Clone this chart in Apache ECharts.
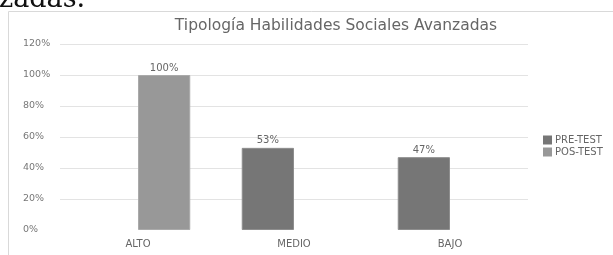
<!DOCTYPE html>
<html>
<head>
<meta charset="utf-8">
<script src="https://cdn.jsdelivr.net/npm/echarts@6/dist/echarts.min.js"></script>
<style>
  html, body { margin: 0; padding: 0; background: #fff; }
  #chart { width: 613px; height: 255px; }
</style>
</head>
<body>
<div id="chart"></div>
<script>
var categories = ['ALTO', 'MEDIO', 'BAJO'];
var preTest = [null, 53, 47];
var posTest = [100, null, null];
var yTicks = [0, 20, 40, 60, 80, 100, 120];

var chart = echarts.init(document.getElementById('chart'));
var txt = '#666666';
var fam = '"DejaVu Sans"';

var option = {
  animation: false,
  graphic: [
    // trozo del texto del documento, cortado arriba
    { type: 'text', left: -1, top: -14, style: { text: 'zadas.', font: '27px "DejaVu Serif"', fill: '#111' } },
    // borde del grafico
    { type: 'rect', shape: { x: 8.5, y: 11.5, width: 640, height: 300 }, style: { fill: 'none', stroke: '#d9d9d9', lineWidth: 1 } }
  ],
  title: {
    text: 'Tipología Habilidades Sociales Avanzadas',
    left: 331, top: 13, textAlign: 'center',
    textStyle: { fontFamily: fam, fontSize: 15.5, fontWeight: 'normal', color: '#666666' }
  },
  legend: {
    orient: 'vertical', left: 538, top: 130,
    icon: 'rect', itemWidth: 9, itemHeight: 9, itemGap: 2,
    data: ['PRE-TEST', 'POS-TEST'],
    itemStyle: { borderWidth: 0 },
    textStyle: { fontFamily: fam, fontSize: 10, color: txt, padding: [0, 0, 0, -2] }
  },
  grid: { left: 60, right: 85, top: 44, bottom: 25 },
  xAxis: {
    type: 'category', data: categories,
    axisLine: { show: false }, axisTick: { show: false },
    axisLabel: { fontFamily: fam, fontSize: 10, color: txt, margin: 9 }
  },
  yAxis: {
    type: 'value', min: yTicks[0], max: yTicks[yTicks.length - 1], interval: 20,
    axisLine: { show: false }, axisTick: { show: false },
    axisLabel: { formatter: '{value}%', fontFamily: fam, fontSize: 9.5, color: '#777777', align: 'left', margin: 37 },
    splitLine: { showMinLine: false, lineStyle: { color: '#e3e3e3', width: 1 } }
  },
  series: [
    {
      name: 'PRE-TEST', type: 'bar', data: preTest,
      barGap: '0%', barCategoryGap: '33%',
      itemStyle: { color: '#767676', borderColor: '#8e8e8e', borderWidth: 1 },
      label: { show: true, position: 'top', distance: 2, formatter: '{c}%', fontFamily: fam, fontSize: 10, color: txt }
    },
    {
      name: 'POS-TEST', type: 'bar', data: posTest,
      itemStyle: { color: '#989898', borderColor: '#aaaaaa', borderWidth: 1 },
      label: { show: true, position: 'top', distance: 2, formatter: '{c}%', fontFamily: fam, fontSize: 10, color: txt }
    }
  ]
};
chart.setOption(option);
</script>
</body>
</html>
